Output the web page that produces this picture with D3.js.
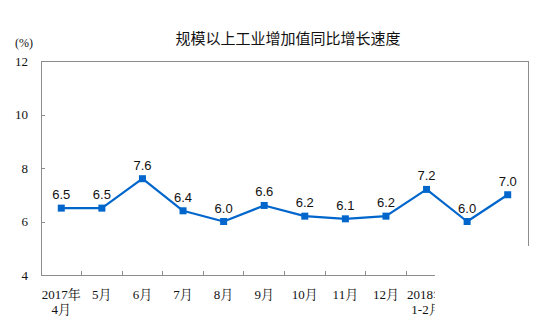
<!DOCTYPE html>
<html>
<head>
<meta charset="utf-8">
<script src="https://cdn.jsdelivr.net/npm/d3@7"></script>
<style>
  html, body { margin: 0; padding: 0; background: #fff; }
  svg { display: block; }
</style>
</head>
<body>
<svg id="chart" width="540" height="326"></svg>
<script>
// 规模以上工业增加值同比增长速度 (%)
const categories = ["2017年\n4月", "5月", "6月", "7月", "8月", "9月", "10月", "11月", "12月", "2018年\n1-2月", "3月", "4月"];
const growth = [6.5, 6.5, 7.6, 6.4, 6.0, 6.6, 6.2, 6.1, 6.2, 7.2, 6.0, 7.0];
const yTicks = [4, 6, 8, 10, 12];
const title = "规模以上工业增加值同比增长速度";
const unitLabel = "(%)";

const svg = d3.select("#chart");
const plotLeft = 41, plotRight = 528, plotTop = 61, plotBottom = 275;
const axisColor = "#8c8c8c";
const lineColor = "#0066cc";
const serif = "'Liberation Serif', 'Noto Serif CJK SC', 'Noto Sans CJK SC', serif";

const x = d3.scaleBand().domain(categories).range([plotLeft, plotRight]).padding(0);
const y = d3.scaleLinear().domain([4, 12]).range([plotBottom, plotTop]);

// the lower right corner of the chart is cut away
svg.append("defs").append("clipPath").attr("id", "cut")
  .append("path")
  .attr("d", "M0,0H540V246H435V326H0Z");

const g = svg.append("g").attr("clip-path", "url(#cut)");

// title and unit
g.append("text")
  .attr("x", 288).attr("y", 44)
  .attr("text-anchor", "middle")
  .attr("font-family", "'Noto Sans CJK SC', sans-serif")
  .attr("font-size", 15)
  .attr("fill", "#111")
  .text(title);

g.append("text")
  .attr("x", 24).attr("y", 47)
  .attr("text-anchor", "middle")
  .attr("font-family", serif)
  .attr("font-size", 12)
  .attr("fill", "#111")
  .text(unitLabel);

// frame: top and right borders
g.append("path")
  .attr("d", `M${plotLeft},${plotTop}H${plotRight}V${plotBottom}`)
  .attr("fill", "none")
  .attr("stroke", axisColor)
  .attr("stroke-width", 1)
  .attr("shape-rendering", "crispEdges");

// y axis with inward ticks
const yAxis = d3.axisLeft(y).tickValues(yTicks).tickSize(-4).tickPadding(13).tickFormat(d3.format("d"));
const yg = g.append("g").attr("transform", `translate(${plotLeft},0)`).call(yAxis);
yg.select(".domain").attr("stroke", axisColor).attr("shape-rendering", "crispEdges");
yg.selectAll(".tick line").attr("stroke", axisColor).attr("shape-rendering", "crispEdges");
yg.selectAll(".tick text")
  .attr("font-family", serif)
  .attr("font-size", 13)
  .attr("fill", "#111");

// x axis: ticks at category boundaries
g.append("line")
  .attr("x1", plotLeft).attr("x2", plotRight)
  .attr("y1", plotBottom).attr("y2", plotBottom)
  .attr("stroke", axisColor)
  .attr("shape-rendering", "crispEdges");

const boundaries = categories.slice(1).map(c => x(c));
g.selectAll(".xtick").data(boundaries).enter().append("line")
  .attr("class", "xtick")
  .attr("x1", d => d).attr("x2", d => d)
  .attr("y1", plotBottom).attr("y2", plotBottom - 4)
  .attr("stroke", axisColor)
  .attr("shape-rendering", "crispEdges");

const xl = g.selectAll(".xlabel").data(categories).enter().append("text")
  .attr("class", "xlabel")
  .attr("text-anchor", "middle")
  .attr("font-family", serif)
  .attr("font-size", 13)
  .attr("fill", "#111");
xl.each(function(d) {
  const t = d3.select(this);
  d.split("\n").forEach((line, i) => {
    t.append("tspan")
      .attr("x", x(d) + x.bandwidth() / 2)
      .attr("y", 299 + i * 15)
      .text(line);
  });
});

// series line
const cx = d => x(d) + x.bandwidth() / 2;
const line = d3.line()
  .x((d, i) => cx(categories[i]))
  .y(d => y(d));

g.append("path")
  .datum(growth)
  .attr("fill", "none")
  .attr("stroke", lineColor)
  .attr("stroke-width", 2.2)
  .attr("stroke-linejoin", "round")
  .attr("d", line);

g.selectAll(".marker").data(growth).enter().append("rect")
  .attr("class", "marker")
  .attr("x", (d, i) => cx(categories[i]) - 3.5)
  .attr("y", d => y(d) - 3.5)
  .attr("width", 7).attr("height", 7)
  .attr("fill", lineColor);

g.selectAll(".value").data(growth).enter().append("text")
  .attr("class", "value")
  .attr("x", (d, i) => cx(categories[i]))
  .attr("y", d => y(d) - 9)
  .attr("text-anchor", "middle")
  .attr("font-family", "'Liberation Sans', Arial, sans-serif")
  .attr("font-size", 13)
  .attr("fill", "#111")
  .text(d => d.toFixed(1));
</script>
</body>
</html>
